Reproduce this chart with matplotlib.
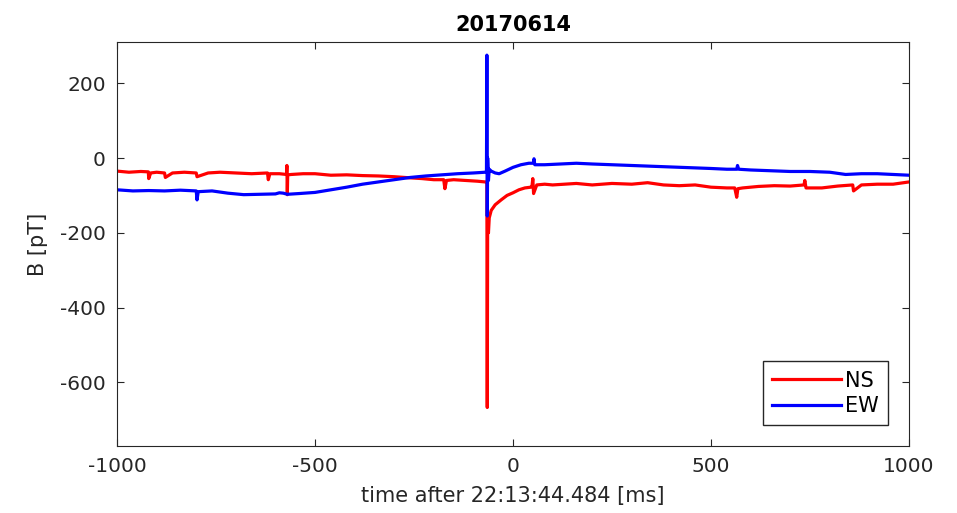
import matplotlib
matplotlib.use('Agg')
import matplotlib.pyplot as plt

plt.rcParams['font.family'] = ['DejaVu Sans Condensed', 'DejaVu Sans']
plt.rcParams['axes.unicode_minus'] = False

# NS component (red)
ns_t = [-1000, -970, -940, -921, -920, -915, -900, -880, -878, -860,
        -830, -800, -798, -770, -740, -700, -660, -620, -618, -614,
        -590, -572, -571, -570, -569, -560, -530, -500, -460, -420,
        -380, -340, -300, -260, -230, -200, -175, -172, -168, -150,
        -120, -90, -70, -66, -65, -64, -62, -60, -55, -45,
        -30, -15, 0, 15, 30, 45, 48, 50, 52, 60,
        80, 100, 130, 160, 200, 250, 300, 340, 380, 420,
        460, 500, 540, 560, 565, 568, 580, 620, 660, 700,
        735, 737, 740, 780, 820, 858, 860, 880, 920, 960,
        1000]
ns_b = [-35, -38, -36, -37, -55, -40, -38, -40, -52, -40,
        -38, -40, -50, -40, -38, -40, -42, -40, -58, -42,
        -42, -44, -20, -98, -45, -44, -42, -42, -46, -45,
        -47, -48, -50, -53, -55, -58, -58, -82, -60, -58,
        -60, -62, -64, -64, -667, -150, -200, -160, -140, -125,
        -112, -100, -93, -85, -80, -78, -75, -55, -95, -72,
        -70, -72, -70, -68, -72, -68, -70, -66, -72, -74,
        -72, -78, -80, -80, -105, -82, -80, -76, -74, -75,
        -72, -60, -80, -80, -75, -72, -88, -72, -70, -70,
        -64]

# EW component (blue)
ew_t = [-1000, -960, -920, -880, -840, -800, -798, -795, -760, -720,
        -680, -640, -600, -590, -580, -570, -540, -500, -460, -420,
        -380, -340, -300, -260, -220, -180, -140, -100, -70, -67,
        -66, -65, -64, -62, -60, -55, -45, -35, -20, 0,
        20, 40, 52, 53, 55, 80, 120, 160, 200, 250,
        300, 350, 400, 450, 500, 540, 565, 567, 570, 600,
        650, 700, 750, 800, 840, 880, 920, 960, 1000]
ew_b = [-85, -88, -87, -88, -86, -88, -112, -90, -88, -94,
        -98, -97, -96, -93, -94, -97, -95, -92, -85, -78,
        -70, -64, -58, -52, -48, -45, -42, -40, -38, -38,
        275, -155, 0, -60, -30, -35, -40, -42, -35, -25,
        -18, -14, -14, -2, -18, -18, -16, -14, -16, -18,
        -20, -22, -24, -26, -28, -30, -30, -20, -30, -32,
        -34, -36, -36, -38, -44, -42, -42, -44, -46]

fig = plt.figure(figsize=(9.57, 5.13), dpi=100)
ax = fig.add_axes([0.1223, 0.1306, 0.8275, 0.7874])
ax.plot(ns_t, ns_b, color='red', linewidth=2.3, label='NS')
ax.plot(ew_t, ew_b, color='blue', linewidth=2.3, label='EW')

ax.set_xlim(-1000, 1000)
ax.set_ylim(-770, 310)
ax.set_xticks([-1000, -500, 0, 500, 1000])
ax.set_yticks([-600, -400, -200, 0, 200])
ax.tick_params(direction='in', top=True, right=True, length=5,
               labelsize=14.5, colors='#262626', pad=8)
for s in ax.spines.values():
    s.set_color('#262626')
ax.set_title('20170614', fontsize=15, fontweight='bold', pad=8)
ax.set_xlabel('time after 22:13:44.484 [ms]', fontsize=15, color='#262626', labelpad=7)
ax.set_ylabel('B [pT]', fontsize=15, color='#262626', labelpad=9)

leg = ax.legend(loc='lower right', fontsize=15, handlelength=3.3,
                fancybox=False, framealpha=1, edgecolor='#262626',
                borderaxespad=1.0, handletextpad=0.2, labelspacing=0.25,
                borderpad=0.45)
leg.get_frame().set_linewidth(1)

plt.savefig('out.png', dpi=100)
